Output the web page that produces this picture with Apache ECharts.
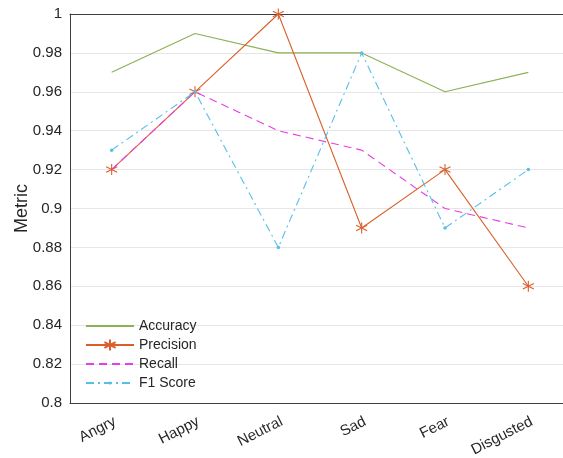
<!DOCTYPE html>
<html><head><meta charset="utf-8">
<script src="https://cdn.jsdelivr.net/npm/echarts@6/dist/echarts.min.js"></script>
<style>html,body{margin:0;padding:0;background:#fff;overflow:hidden}#c{width:572px;height:458px}</style>
</head><body><div id="c"></div>
<script>
const categories = ['Angry','Happy','Neutral','Sad','Fear','Disgusted'];
const accuracy  = [0.97, 0.99, 0.98, 0.98, 0.96, 0.97];
const precision = [0.92, 0.96, 1.00, 0.89, 0.92, 0.86];
const recall    = [0.92, 0.96, 0.94, 0.93, 0.90, 0.89];
const f1score   = [0.93, 0.96, 0.88, 0.98, 0.89, 0.92];
const yTicks = [0.8,0.82,0.84,0.86,0.88,0.9,0.92,0.94,0.96,0.98,1];

const FONT = 'Liberation Sans, Arial, sans-serif';
const TXT = '#262626';
const AX = '#404040';
const C_ACC = '#8DB055', C_PRE = '#D9602A', C_REC = '#E83CE8', C_F1 = '#55BFEA';
const asterisk = 'path://M0,-5L0,5M-4.33,-2.5L4.33,2.5M-4.33,2.5L4.33,-2.5';
const legendText = {fontFamily:FONT, fontSize:14, color:TXT};
const chart = echarts.init(document.getElementById('c'));
chart.setOption({
  animation:false,
  backgroundColor:'#fff',
  grid:{left:70, top:14, width:500, height:389, containLabel:false, outerBoundsMode:'none'},
  legend:[{
    orient:'vertical', left:80, top:314, itemGap:5, itemWidth:48, itemHeight:14, padding:5,
    textStyle:legendText,
    data:[{name:'Accuracy', itemStyle:{opacity:0}}, {name:'Precision'}]
  },{
    orient:'vertical', left:80, top:352, itemGap:5, itemWidth:48, itemHeight:4, padding:5,
    textStyle:legendText,
    data:[{name:'Recall', itemStyle:{opacity:0}}, {name:'F1 Score'}]
  }],
  xAxis:[{
    type:'category', data:categories, boundaryGap:true,
    axisLine:{lineStyle:{color:AX, width:1}},
    axisTick:{inside:true, alignWithLabel:true, length:5, lineStyle:{color:AX}},
    axisLabel:{rotate:27, interval:0, margin:11, verticalAlign:'top', align:'right',
      fontFamily:FONT, fontSize:15, color:TXT},
    splitLine:{show:false}
  },{
    type:'category', data:categories, boundaryGap:true, position:'top',
    axisLine:{lineStyle:{color:AX, width:1}},
    axisTick:{inside:true, alignWithLabel:true, length:5, lineStyle:{color:AX}},
    axisLabel:{show:false}
  }],
  yAxis:{
    type:'value', min:0.8, max:1, interval:0.02,
    name:'Metric', nameLocation:'middle', nameGap:39, nameRotate:90, nameMoveOverlap:false,
    nameTextStyle:{fontFamily:FONT, fontSize:18, color:TXT},
    axisLine:{show:true, lineStyle:{color:AX, width:1}},
    axisTick:{show:false},
    axisLabel:{fontFamily:FONT, fontSize:15, color:TXT, margin:8,
      formatter:v=>{const t=yTicks.find(x=>Math.abs(x-v)<1e-9); return t===undefined?'':String(+t.toFixed(2));}},
    splitLine:{show:true, lineStyle:{color:'#e6e6e6', width:1}}
  },
  series:[
    {name:'Accuracy', type:'line', data:accuracy, symbol:'none', color:C_ACC,
     lineStyle:{width:1.1, color:C_ACC}, z:2},
    {name:'Precision', type:'line', data:precision, symbol:asterisk, symbolSize:11, color:C_PRE,
     lineStyle:{width:1.1, color:C_PRE},
     itemStyle:{color:C_PRE, borderColor:C_PRE, borderWidth:1.1}, z:3},
    {name:'Recall', type:'line', data:recall, symbol:'none', color:C_REC,
     lineStyle:{width:1.1, color:C_REC, type:[8,5]}, z:4},
    {name:'F1 Score', type:'line', data:f1score, symbol:'circle', symbolSize:3.5, color:C_F1,
     lineStyle:{width:1.1, color:C_F1, type:[8,4,2,4]},
     itemStyle:{color:C_F1}, z:5}
  ]
});
</script></body></html>
